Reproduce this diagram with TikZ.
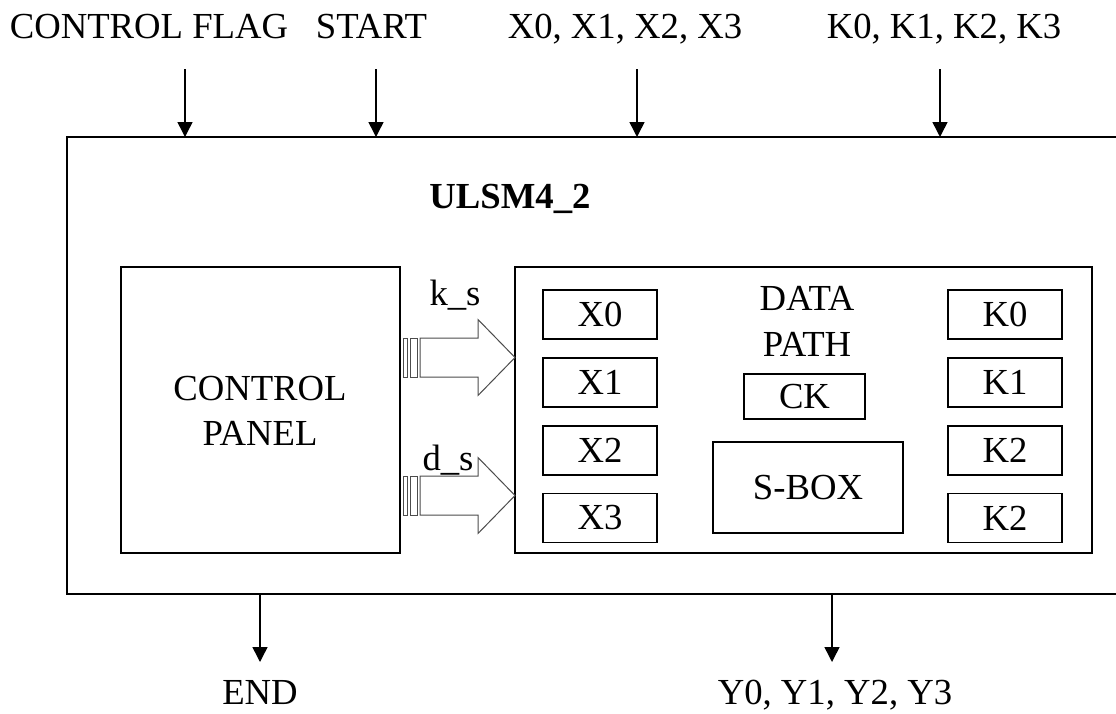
\documentclass[tikz,border=0pt]{standalone}
\usepackage{fontspec}
\setmainfont{Liberation Serif}
\usetikzlibrary{arrows.meta}
\begin{document}
\begin{tikzpicture}[x=1pt,y=-1pt,
  font=\fontsize{36.7}{40}\selectfont,
  lbl/.style={anchor=base,inner sep=0pt},
  blk/.style={draw,line width=1.8pt,inner sep=0pt},
  reg/.style={blk,minimum width=114pt,minimum height=49pt},
  sig/.style={line width=1.5pt,-{Triangle[length=15pt,width=15pt]}},
  fat/.style={draw=black!70,line width=1pt,fill=white}]
\useasboundingbox (0,0) rectangle (1116,713);

% outer module (right side runs off the page)
\draw[line width=2pt] (1116,137) -- (67,137) -- (67,594) -- (1116,594);

% top labels
\node[lbl] (lflag)  at (149,38) {CONTROL FLAG};
\node[lbl] (lstart) at (371.5,38) {START};
\node[lbl] (lx)     at (625,38) {X0, X1, X2, X3};
\node[lbl] (lk)     at (944,38) {K0, K1, K2, K3};

% top arrows
\coordinate (fs) at (185,69);  \coordinate (fe) at (185,137);
\coordinate (ss) at (376,69);  \coordinate (se) at (376,137);
\coordinate (xs) at (637,69);  \coordinate (xe) at (637,137);
\coordinate (ks) at (940,69);  \coordinate (ke) at (940,137);
\draw[sig] (fs) -- (fe);
\draw[sig] (ss) -- (se);
\draw[sig] (xs) -- (xe);
\draw[sig] (ks) -- (ke);

% title
\node[lbl,font=\fontsize{36.7}{40}\selectfont\bfseries] (title) at (510,208) {ULSM4\_2};

% control panel
\node[blk,minimum width=279pt,minimum height=286pt] (cp) at (260.5,410) {};
\node[lbl] (cpt1) at (260,400) {CONTROL};
\node[lbl] (cpt2) at (260,445) {PANEL};

% data path
\node[blk,minimum width=577pt,minimum height=286pt] (dp) at (803.5,410) {};
\node[lbl] (dpt1) at (807,310) {DATA};
\node[lbl] (dpt2) at (807,356) {PATH};

\node[reg] (x0) at (600,314.5) {X0};
\node[reg] (x1) at (600,382.5) {X1};
\node[reg] (x2) at (600,450.5) {X2};
\node[reg] (x3) at (600,518)   {X3};

\node[reg] (k0) at (1005,314.5) {K0};
\node[reg] (k1) at (1005,382.5) {K1};
\node[reg] (k2) at (1005,450.5) {K2};
\node[reg] (k3) at (1005,518)   {K2};

\node[blk,minimum width=121pt,minimum height=45pt] (ck) at (804.5,396.5) {CK};
\node[blk,minimum width=190pt,minimum height=91pt] (sbox) at (808,487.5) {S-BOX};

% striped block arrows
\node[lbl] (lks) at (455,305) {k\_s};
\draw[fat] (403,338) rectangle (407,377);
\draw[fat] (410,338) rectangle (417,377);
\draw[fat] (420,338) -- (478,338) -- (478,319.5) -- (515,357.5) -- (478,395.5) -- (478,377) -- (420,377) -- cycle;

\node[lbl] (lds) at (448,470) {d\_s};
\draw[fat] (403,476) rectangle (407,515);
\draw[fat] (410,476) rectangle (417,515);
\draw[fat] (420,476) -- (478,476) -- (478,457.5) -- (515,495.5) -- (478,533.5) -- (478,515) -- (420,515) -- cycle;

% bottom arrows and labels
\coordinate (es) at (260,594); \coordinate (ee) at (260,662);
\coordinate (ys) at (832,594); \coordinate (ye) at (832,662);
\draw[sig] (es) -- (ee);
\draw[sig] (ys) -- (ye);
\node[lbl] (lend) at (260,704) {END};
\node[lbl] (ly)   at (835,704) {Y0, Y1, Y2, Y3};
\end{tikzpicture}
\end{document}
